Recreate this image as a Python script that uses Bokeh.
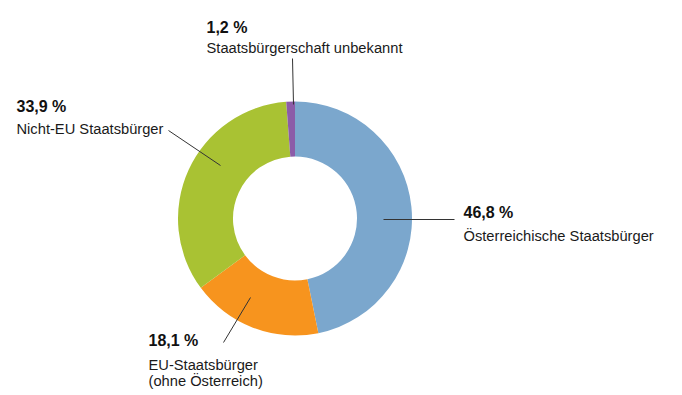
import numpy as np
from bokeh.plotting import figure
from bokeh.models import Range1d, ColumnDataSource
from bokeh.embed import file_html
from bokeh.resources import INLINE
from bokeh.core.properties import value

# ---- data ----
categories = ["Österreichische Staatsbürger", "EU-Staatsbürger\n(ohne Österreich)",
              "Nicht-EU Staatsbürger", "Staatsbürgerschaft unbekannt"]
shares = [46.8, 18.1, 33.9, 1.2]
pct_labels = ["46,8 %", "18,1 %", "33,9 %", "1,2 %"]
colors = ["#7BA7CD", "#F7941E", "#A9C233", "#8C5CA8"]

# ---- layout (image pixel coordinates, y measured from top) ----
W, H = 682, 395
def Y(v):
    return 395 - v

cx, cy = 294.5, Y(218)
r_in, r_out = 62, 117

p = figure(width=W, height=H, output_backend="svg", toolbar_location=None,
           x_range=Range1d(0, W), y_range=Range1d(395 - H, 395),
           min_border=0)
p.axis.visible = False
p.grid.visible = False
p.outline_line_color = None
p.background_fill_color = "white"

vals = np.array(shares, dtype=float)
frac = vals / vals.sum()
cum_end = np.cumsum(frac)
cum_start = cum_end - frac
start = np.pi / 2 - 2 * np.pi * cum_end
end = np.pi / 2 - 2 * np.pi * cum_start

src = ColumnDataSource(dict(start=start, end=end, color=colors))
p.annular_wedge(x=cx, y=cy, inner_radius=r_in, outer_radius=r_out,
                start_angle="start", end_angle="end", fill_color="color",
                line_color=None, source=src)

# leader lines (image coords)
leaders = [
    ((383, 219), (454, 219)),   # Österreich
    ((250, 297), (223, 342)),   # EU
    ((220, 165), (168, 130)),   # Nicht-EU
    ((293, 104), (292, 58)),    # unbekannt
]
for (x0, y0), (x1, y1) in leaders:
    p.line([x0, x1], [Y(y0), Y(y1)], line_color="#333333", line_width=1)

font = value("Liberation Sans")
num_pos = [(463, 212), (148, 340), (16, 106), (206, 27)]
cat_pos = [(463, 235), (148, 364), (16, 128), (206, 47)]
for i in range(4):
    nx, ny = num_pos[i]
    p.text(x=[nx], y=[Y(ny)], text=[pct_labels[i]], text_font=font,
           text_font_size="16px", text_font_style="bold", text_color="#111111",
           text_baseline="alphabetic", text_align="left")
    tx, ty = cat_pos[i]
    for j, line in enumerate(categories[i].split("\n")):
        p.text(x=[tx], y=[Y(ty + j * 16)], text=[line], text_font=font,
               text_font_size="14.7px", text_color="#1a1a1a",
               text_baseline="alphabetic", text_align="left")

open("out.html", "w").write(file_html(p, INLINE))
